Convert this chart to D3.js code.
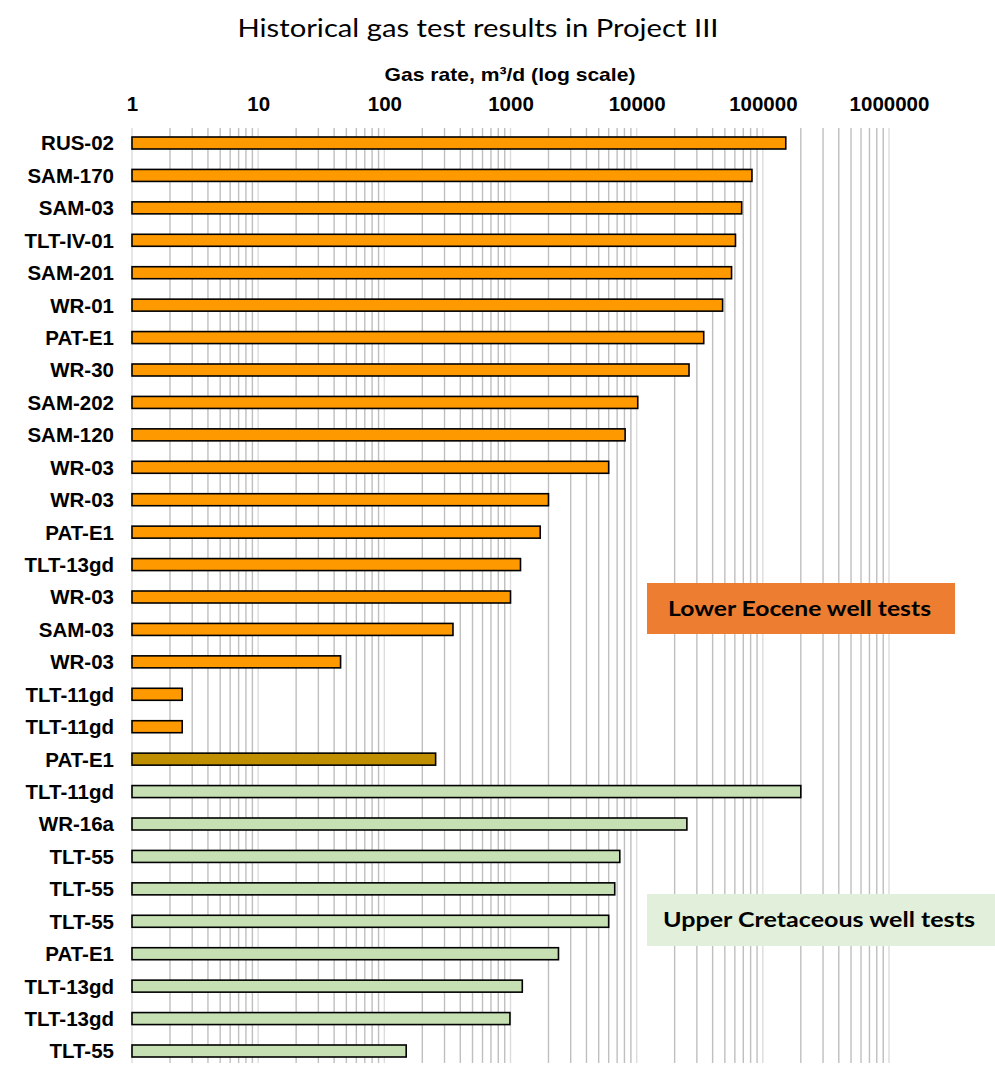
<!DOCTYPE html>
<html lang="en">
<head>
<meta charset="utf-8">
<title>Historical gas test results</title>
<script src="https://cdn.jsdelivr.net/npm/d3@7"></script>
<style>
  body { margin: 0; background: white; }
  svg { display: block; background: white; }
  .lbl { font-family: "Liberation Sans", Arial, sans-serif; font-weight: bold; font-size: 20.5px; fill: #000; }
  .tick text { font-family: "Liberation Sans", Arial, sans-serif; font-weight: bold; font-size: 20.5px; fill: #000; }
  .title { font-family: Lato, "Open Sans", sans-serif; font-size: 25px; fill: #000; }
  .legend text { font-family: Lato, "Open Sans", sans-serif; font-weight: bold; font-size: 21px; fill: #000; }
</style>
</head>
<body>
<svg id="chart"></svg>
<script>
// well names, top to bottom
var wells = ["RUS-02", "SAM-170", "SAM-03", "TLT-IV-01", "SAM-201", "WR-01", "PAT-E1", "WR-30",
    "SAM-202", "SAM-120", "WR-03", "WR-03", "PAT-E1", "TLT-13gd", "WR-03", "SAM-03", "WR-03",
    "TLT-11gd", "TLT-11gd", "PAT-E1",
    "TLT-11gd", "WR-16a", "TLT-55", "TLT-55", "TLT-55", "PAT-E1", "TLT-13gd", "TLT-13gd", "TLT-55"];

// gas rate, m3/d
var rates = [152000, 82000, 68000, 60700, 56500, 48000, 34000, 26000,
    10200, 8100, 6000, 2000, 1720, 1200, 1000, 350, 45,
    2.5, 2.5, 255,
    200000, 25000, 7350, 6700, 6000, 2400, 1240, 990, 149];

// formation of each test
var groups = ["LE","LE","LE","LE","LE","LE","LE","LE","LE","LE","LE","LE","LE","LE","LE","LE","LE",
    "LE","LE","X",
    "UC","UC","UC","UC","UC","UC","UC","UC","UC"];

var tickValues = [1, 10, 100, 1000, 10000, 100000, 1000000];

var width = 995, height = 1065;

var svg = d3.select("#chart")
    .attr("width", width)
    .attr("height", height);

var x = d3.scaleLog()
    .domain([1, 1000000])
    .range([132, 889]);

var rows = d3.range(wells.length);
var y = d3.scalePoint()
    .domain(rows)
    .range([143, 1051]);

var color = d3.scaleOrdinal()
    .domain(["LE", "X", "UC"])
    .range(["#ff9900", "#bf8f00", "#c6e0b4"]);

var barH = 12;

// grid lines - minor first, then the decades on top
var allTicks = x.ticks();
svg.append("g")
    .selectAll("line")
    .data(allTicks)
    .enter().append("line")
      .attr("x1", function(d) { return x(d); })
      .attr("x2", function(d) { return x(d); })
      .attr("y1", 128)
      .attr("y2", 1063)
      .attr("stroke", function(d) { return tickValues.indexOf(d) >= 0 ? "#dcdcdc" : "#bfbfbf"; })
      .attr("stroke-width", 1.4);

// top axis labels
svg.append("g")
    .attr("transform", "translate(0,111)")
    .call(d3.axisTop(x).tickValues(tickValues).tickSize(0).tickPadding(0).tickFormat(d3.format("d")))
    .call(function(g) { g.select(".domain").remove(); });

svg.append("text")
    .attr("class", "lbl")
    .attr("x", 510)
    .attr("y", 81)
    .attr("text-anchor", "middle")
    .attr("textLength", 251)
    .attr("lengthAdjust", "spacingAndGlyphs")
    .style("font-size", "19px")
    .text("Gas rate, m³/d (log scale)");

svg.append("text")
    .attr("class", "title")
    .attr("x", 478)
    .attr("y", 37)
    .attr("text-anchor", "middle")
    .attr("textLength", 481)
    .attr("lengthAdjust", "spacingAndGlyphs")
    .text("Historical gas test results in Project III");

// bars
svg.append("g")
    .selectAll("rect")
    .data(rows)
    .enter().append("rect")
      .attr("x", x(1))
      .attr("y", function(i) { return y(i) - barH / 2; })
      .attr("width", function(i) { return x(rates[i]) - x(1); })
      .attr("height", barH)
      .attr("fill", function(i) { return color(groups[i]); })
      .attr("stroke", "#000")
      .attr("stroke-width", 1.6);

// well labels
svg.append("g")
    .selectAll("text")
    .data(rows)
    .enter().append("text")
      .attr("class", "lbl")
      .attr("x", 114)
      .attr("y", function(i) { return y(i); })
      .attr("dy", "0.36em")
      .attr("text-anchor", "end")
      .text(function(i) { return wells[i]; });

// formation boxes
var legendData = [
    {text: "Lower Eocene well tests", x: 647, y: 583, w: 308, h: 51, fill: "#ed7d31", tx: 668, tl: 263},
    {text: "Upper Cretaceous well tests", x: 647, y: 894, w: 348, h: 52, fill: "#e2efda", tx: 663, tl: 312}
];

var legend = svg.selectAll(".legend")
    .data(legendData)
    .enter().append("g")
      .attr("class", "legend");

legend.append("rect")
    .attr("x", function(d) { return d.x; })
    .attr("y", function(d) { return d.y; })
    .attr("width", function(d) { return d.w; })
    .attr("height", function(d) { return d.h; })
    .attr("fill", function(d) { return d.fill; });

legend.append("text")
    .attr("x", function(d) { return d.tx; })
    .attr("y", function(d) { return d.y + d.h / 2; })
    .attr("dy", "0.35em")
    .attr("textLength", function(d) { return d.tl; })
    .attr("lengthAdjust", "spacingAndGlyphs")
    .text(function(d) { return d.text; });
</script>
</body>
</html>
